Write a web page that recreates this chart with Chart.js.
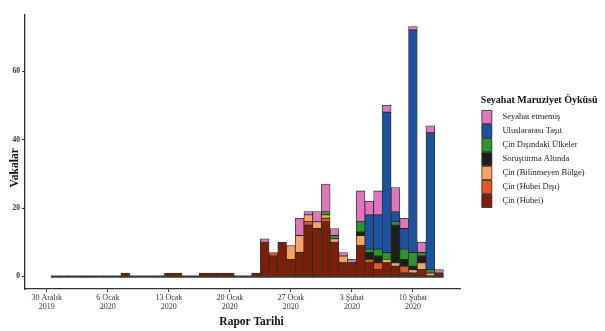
<!DOCTYPE html>
<html lang="tr">
<head>
  <meta charset="UTF-8" />
  <title>Seyahat Maruziyet Öyküsü</title>
  <script src="https://cdn.jsdelivr.net/npm/chart.js@4"></script>
  <style>
    body { margin: 0; background: #fff; }
    #wrap { width: 605px; height: 331px; }
  </style>
</head>
<body>
  <div id="wrap"><canvas id="chart" width="605" height="331"></canvas></div>

  <script>
    // report days, 28 Dec 2019 .. 15 Feb 2020
    const days = [
      '2019-12-28','2019-12-29','2019-12-30','2019-12-31',
      '2020-01-01','2020-01-02','2020-01-03','2020-01-04','2020-01-05','2020-01-06','2020-01-07',
      '2020-01-08','2020-01-09','2020-01-10','2020-01-11','2020-01-12','2020-01-13','2020-01-14',
      '2020-01-15','2020-01-16','2020-01-17','2020-01-18','2020-01-19','2020-01-20','2020-01-21',
      '2020-01-22','2020-01-23','2020-01-24','2020-01-25','2020-01-26','2020-01-27','2020-01-28',
      '2020-01-29','2020-01-30','2020-01-31','2020-02-01','2020-02-02','2020-02-03','2020-02-04',
      '2020-02-05','2020-02-06','2020-02-07','2020-02-08','2020-02-09','2020-02-10','2020-02-11',
      '2020-02-12','2020-02-13','2020-02-14','2020-02-15'
    ];

    const tickDays = ['2019-12-30','2020-01-06','2020-01-13','2020-01-20','2020-01-27','2020-02-03','2020-02-10'];
    const tickText = [
      ['30 Aralık', '2019'], ['6 Ocak', '2020'], ['13 Ocak', '2020'], ['20 Ocak', '2020'],
      ['27 Ocak', '2020'], ['3 Şubat', '2020'], ['10 Şubat', '2020']
    ];
    const yTicks = [0, 20, 40, 60];

    // null = no report that day
    const hubei = [null,null,null, 0,0,0,0,0,0,0,0, 1, 0,0,0,0, 1,1, 0,0, 1,1,1,1, 0,0, 1,
      10,6,10,5,7,15,14,16, 10,4,4,9,4,2,4,3,1,1,2,0,1, null,null];
    const hubeiDisi = [0,0,0,0,0,0,0,0,0,0,0,0,0,0,0,0,0,0,0,0,0,0,0,0,0,0,0,
      0,1,0,0,0,1,0,1, 0,0,0,0,1,2,0,0,2,0,0,0,0, 0,0];
    const bilinmeyen = [0,0,0,0,0,0,0,0,0,0,0,0,0,0,0,0,0,0,0,0,0,0,0,0,0,0,0,
      0,0,0,4,5,2,2,1, 1,2,0,3,0,0,1,1,0,1,2,1,0, 0,0];
    const sorusturma = [0,0,0,0,0,0,0,0,0,0,0,0,0,0,0,0,0,0,0,0,0,0,0,0,0,0,0,
      0,0,0,0,0,0,0,0, 0,0,0,1,2,2,0,11,2,1,2,0,0, 0,0];
    const cinDisi = [0,0,0,0,0,0,0,0,0,0,0,0,0,0,0,0,0,0,0,0,0,0,0,0,0,0,0,
      0,0,0,0,0,0,0,1, 1,0,0,3,1,2,2,1,3,4,1,1,0, 0,0];
    const tasit = [0,0,0,0,0,0,0,0,0,0,0,0,0,0,0,0,0,0,0,0,0,0,0,0,0,0,0,
      0,0,0,0,0,0,0,0, 0,0,0,0,10,10,41,3,6,65,0,40,0, 0,0];
    const seyahatYok = [0,0,0,0,0,0,0,0,0,0,0,0,0,0,0,0,0,0,0,0,0,0,0,0,0,0,0,
      1,0,0,0,5,1,3,8, 2,1,1,9,4,7,2,7,3,1,3,2,1, 0,0];

    const edge = 'rgba(25,25,25,0.9)';
    const serif = 'Liberation Serif';

    function bars(label, data, color) {
      return {
        label: label,
        data: data,
        backgroundColor: color,
        borderColor: edge,
        borderWidth: 0.8,
        borderSkipped: false,
        categoryPercentage: 1,
        barPercentage: 1
      };
    }

    // zero counts still show as a flat outline along the baseline
    const baseline = {
      label: 'baseline',
      data: hubei.map(v => v === null ? null : 0),
      backgroundColor: '#3a3a3a',
      borderWidth: 0,
      minBarLength: 1.6,
      categoryPercentage: 1,
      barPercentage: 1
    };

    const chart = new Chart(document.getElementById('chart'), {
      type: 'bar',
      data: {
        labels: days,
        datasets: [
          baseline,
          bars('Çin (Hubei)', hubei, '#7a2008'),
          bars('Çin (Hubei Dışı)', hubeiDisi, '#e5561b'),
          bars('Çin (Bilinmeyen Bölge)', bilinmeyen, '#f9a363'),
          bars('Soruşturma Altında', sorusturma, '#1d1d1d'),
          bars('Çin Dışındaki Ülkeler', cinDisi, '#2c962b'),
          bars('Uluslararası Taşıt', tasit, '#1d52a1'),
          bars('Seyahat etmemiş', seyahatYok, '#de76be')
        ]
      },
      options: {
        responsive: false,
        devicePixelRatio: 1,
        animation: false,
        layout: { padding: { top: 15, right: 4, bottom: 0, left: 0 } },
        plugins: {
          tooltip: { enabled: false },
          legend: {
            position: 'right',
            fullSize: false,
            reverse: true,
            maxWidth: 130,
            title: {
              display: true,
              text: 'Seyahat Maruziyet Öyküsü',
              position: 'start',
              color: '#111',
              font: { family: serif, size: 10, weight: 'bold' },
              padding: { top: 0, bottom: 2 }
            },
            labels: {
              boxWidth: 10,
              boxHeight: 13,
              padding: 1,
              color: '#222',
              font: { family: serif, size: 8.5 },
              filter: item => item.datasetIndex !== 0,
              // trailing spaces keep the (clipped) legend box wide enough for its title
              generateLabels: c => Chart.defaults.plugins.legend.labels.generateLabels(c)
                .map(item => Object.assign(item, { text: '   ' + item.text + '   ' }))
            }
          }
        },
        scales: {
          x: {
            stacked: true,
            offset: true,
            afterBuildTicks: s => { s.ticks = tickDays.map(d => ({ value: days.indexOf(d) })); },
            ticks: {
              autoSkip: false,
              maxRotation: 0,
              padding: 1,
              color: '#333',
              font: { family: serif, size: 8, lineHeight: 1.15 },
              callback: v => tickText[tickDays.indexOf(days[v])]
            },
            grid: { offset: false, drawOnChartArea: false, tickLength: 3, color: '#333' },
            border: { color: '#333', width: 1.3 },
            title: {
              display: true,
              text: '      Rapor Tarihi',
              color: '#111',
              font: { family: serif, size: 11.5, weight: 'bold', lineHeight: 1.2 },
              padding: { top: 0, bottom: 2 }
            },
            afterFit: s => { s.height = 42; }
          },
          y: {
            stacked: true,
            min: -3.65,
            max: 76.4,
            afterBuildTicks: s => { s.ticks = yTicks.map(v => ({ value: v })); },
            ticks: {
              padding: 2,
              color: '#333',
              font: { family: serif, size: 7.5, weight: 'bold' }
            },
            grid: { drawOnChartArea: false, tickLength: 3, color: '#333' },
            border: { color: '#333', width: 1.3 },
            title: {
              display: true,
              text: 'Vakalar           ',
              color: '#111',
              font: { family: serif, size: 11.5, weight: 'bold', lineHeight: 1.2 },
              padding: { top: 8, bottom: 0 }
            },
            afterFit: s => { s.width = 25; }
          },
          gap: {
            type: 'linear',
            position: 'right',
            display: true,
            grid: { display: false },
            border: { display: false },
            ticks: { display: false },
            afterFit: s => { s.width = 20; }
          }
        }
      }
    });
  </script>
</body>
</html>
